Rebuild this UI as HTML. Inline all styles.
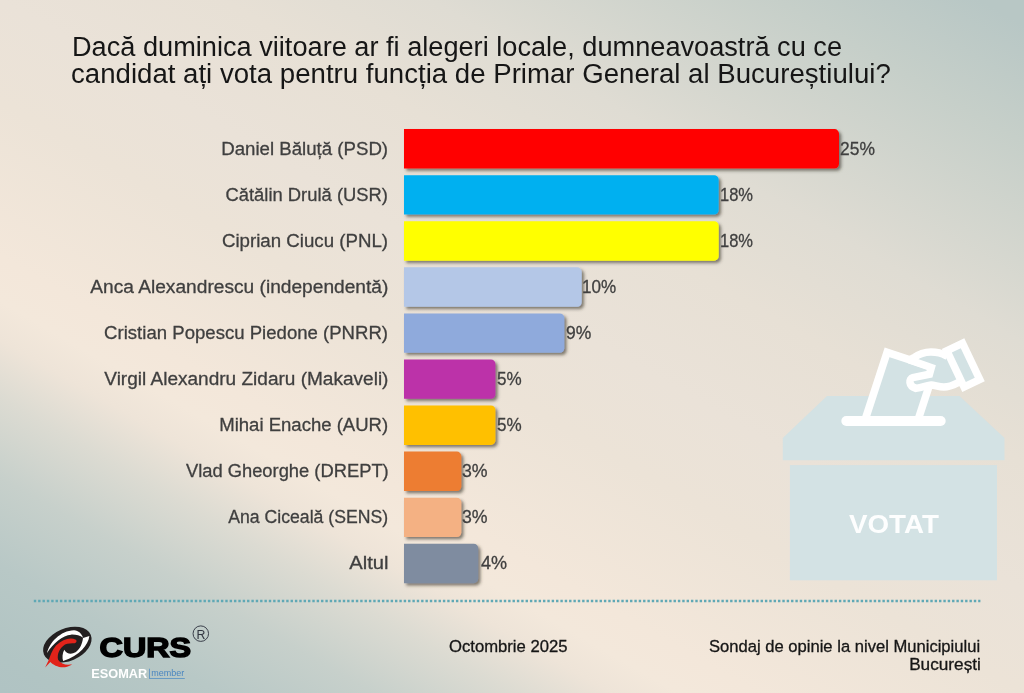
<!DOCTYPE html>
<html lang="ro">
<head>
<meta charset="utf-8">
<title>Sondaj CURS - Primar General al Bucureștiului</title>
<style>
html,body{margin:0;padding:0}
html,body{width:1024px;height:693px}
body{overflow:hidden;position:relative;font-family:"Liberation Sans",sans-serif;background:#e6dfd5}
.bg{position:absolute;left:0;top:0;width:1024px;height:693px;
background:linear-gradient(30deg,#b0c3c3 0%,#b1c4c3 3%,#b8c8c6 9.9%,#c7d0cb 16.8%,#dcdbd2 23%,#eee4d8 27.5%,#f3e8db 30.5%,#f3e7da 34%,#ece3d7 46%,#eae2d8 54%,#e7e0d5 64%,#dfdcd3 73.3%,#c6cfc9 88.9%,#b8c7c5 98%,#b8c7c5 100%);}
.t{position:absolute;white-space:nowrap;margin:0;padding:0;display:block}
svg{position:absolute;left:0;top:0}
</style>
</head>
<body>
<div class="bg"></div>
<h1 style="margin:0;font-weight:400"><span class="t" style="left:71.62px;transform-origin:0 0;top:34.00px;font-size:26.8px;line-height:26.8px;color:#161616;transform:scaleX(1.0137);">Dacă duminica viitoare ar fi alegeri locale, dumneavoastră cu ce</span><span class="t" style="left:70.94px;transform-origin:0 0;top:61.00px;font-size:26.8px;line-height:26.8px;color:#161616;transform:scaleX(1.0306);">candidat ați vota pentru funcția de Primar General al Bucureștiului?</span></h1>
<svg width="1024" height="693" viewBox="0 0 1024 693"><defs><filter id="sh" x="-5%" y="-20%" width="110%" height="150%"><feDropShadow dx="2.3" dy="2.3" stdDeviation="1.4" flood-color="#3c372d" flood-opacity="0.62"/></filter></defs><g filter="url(#sh)"><path fill="#ff0000" d="M404,129.10H834.50a4.5,4.5 0 0 1 4.5,4.5V164.00a4.5,4.5 0 0 1 -4.5,4.5H404Z"/><path fill="#00b0f0" d="M404,175.17H714.20a4.5,4.5 0 0 1 4.5,4.5V210.07a4.5,4.5 0 0 1 -4.5,4.5H404Z"/><path fill="#ffff00" d="M404,221.24H714.20a4.5,4.5 0 0 1 4.5,4.5V256.14a4.5,4.5 0 0 1 -4.5,4.5H404Z"/><path fill="#b4c7e7" d="M404,267.31H577.20a4.5,4.5 0 0 1 4.5,4.5V302.21a4.5,4.5 0 0 1 -4.5,4.5H404Z"/><path fill="#8faadc" d="M404,313.38H559.80a4.5,4.5 0 0 1 4.5,4.5V348.28a4.5,4.5 0 0 1 -4.5,4.5H404Z"/><path fill="#bc30a9" d="M404,359.45H490.90a4.5,4.5 0 0 1 4.5,4.5V394.35a4.5,4.5 0 0 1 -4.5,4.5H404Z"/><path fill="#ffc000" d="M404,405.52H490.90a4.5,4.5 0 0 1 4.5,4.5V440.42a4.5,4.5 0 0 1 -4.5,4.5H404Z"/><path fill="#ed7d31" d="M404,451.59H456.80a4.5,4.5 0 0 1 4.5,4.5V486.49a4.5,4.5 0 0 1 -4.5,4.5H404Z"/><path fill="#f4b183" d="M404,497.66H456.80a4.5,4.5 0 0 1 4.5,4.5V532.56a4.5,4.5 0 0 1 -4.5,4.5H404Z"/><path fill="#7f8ca0" d="M404,543.73H473.70a4.5,4.5 0 0 1 4.5,4.5V578.63a4.5,4.5 0 0 1 -4.5,4.5H404Z"/></g></svg>
<span class="t" style="right:635.62px;transform-origin:100% 0;top:140.00px;font-size:18.8px;line-height:18.8px;color:#3f3f3f;transform:scaleX(0.9929);-webkit-text-stroke:0.3px #3f3f3f;">Daniel Băluță (PSD)</span><span class="t" style="left:840.27px;transform-origin:0 0;top:140.00px;font-size:18.4px;line-height:18.4px;color:#3f3f3f;transform:scaleX(0.9475);-webkit-text-stroke:0.3px #3f3f3f;">25%</span>
<span class="t" style="right:635.62px;transform-origin:100% 0;top:186.00px;font-size:18.8px;line-height:18.8px;color:#3f3f3f;transform:scaleX(0.9789);-webkit-text-stroke:0.3px #3f3f3f;">Cătălin Drulă (USR)</span><span class="t" style="left:719.77px;transform-origin:0 0;top:186.00px;font-size:18.4px;line-height:18.4px;color:#3f3f3f;transform:scaleX(0.8978);-webkit-text-stroke:0.3px #3f3f3f;">18%</span>
<span class="t" style="right:635.68px;transform-origin:100% 0;top:232.00px;font-size:18.8px;line-height:18.8px;color:#3f3f3f;transform:scaleX(0.9947);-webkit-text-stroke:0.3px #3f3f3f;">Ciprian Ciucu (PNL)</span><span class="t" style="left:719.77px;transform-origin:0 0;top:232.00px;font-size:18.4px;line-height:18.4px;color:#3f3f3f;transform:scaleX(0.8978);-webkit-text-stroke:0.3px #3f3f3f;">18%</span>
<span class="t" style="right:635.54px;transform-origin:100% 0;top:278.00px;font-size:18.8px;line-height:18.8px;color:#3f3f3f;transform:scaleX(1.0196);-webkit-text-stroke:0.3px #3f3f3f;">Anca Alexandrescu (independentă)</span><span class="t" style="left:582.03px;transform-origin:0 0;top:278.00px;font-size:18.4px;line-height:18.4px;color:#3f3f3f;transform:scaleX(0.9266);-webkit-text-stroke:0.3px #3f3f3f;">10%</span>
<span class="t" style="right:635.63px;transform-origin:100% 0;top:324.00px;font-size:18.8px;line-height:18.8px;color:#3f3f3f;transform:scaleX(0.9892);-webkit-text-stroke:0.3px #3f3f3f;">Cristian Popescu Piedone (PNRR)</span><span class="t" style="left:565.87px;transform-origin:0 0;top:324.00px;font-size:18.4px;line-height:18.4px;color:#3f3f3f;transform:scaleX(0.9520);-webkit-text-stroke:0.3px #3f3f3f;">9%</span>
<span class="t" style="right:635.58px;transform-origin:100% 0;top:370.00px;font-size:18.8px;line-height:18.8px;color:#3f3f3f;transform:scaleX(1.0132);-webkit-text-stroke:0.3px #3f3f3f;">Virgil Alexandru Zidaru (Makaveli)</span><span class="t" style="left:497.40px;transform-origin:0 0;top:370.00px;font-size:18.4px;line-height:18.4px;color:#3f3f3f;transform:scaleX(0.9274);-webkit-text-stroke:0.3px #3f3f3f;">5%</span>
<span class="t" style="right:635.63px;transform-origin:100% 0;top:416.00px;font-size:18.8px;line-height:18.8px;color:#3f3f3f;transform:scaleX(0.9869);-webkit-text-stroke:0.3px #3f3f3f;">Mihai Enache (AUR)</span><span class="t" style="left:497.40px;transform-origin:0 0;top:416.00px;font-size:18.4px;line-height:18.4px;color:#3f3f3f;transform:scaleX(0.9274);-webkit-text-stroke:0.3px #3f3f3f;">5%</span>
<span class="t" style="right:635.59px;transform-origin:100% 0;top:462.00px;font-size:18.8px;line-height:18.8px;color:#3f3f3f;transform:scaleX(0.9764);-webkit-text-stroke:0.3px #3f3f3f;">Vlad Gheorghe (DREPT)</span><span class="t" style="left:462.28px;transform-origin:0 0;top:462.00px;font-size:18.4px;line-height:18.4px;color:#3f3f3f;transform:scaleX(0.9632);-webkit-text-stroke:0.3px #3f3f3f;">3%</span>
<span class="t" style="right:635.71px;transform-origin:100% 0;top:508.00px;font-size:18.8px;line-height:18.8px;color:#3f3f3f;transform:scaleX(0.9397);-webkit-text-stroke:0.3px #3f3f3f;">Ana Ciceală (SENS)</span><span class="t" style="left:462.28px;transform-origin:0 0;top:508.00px;font-size:18.4px;line-height:18.4px;color:#3f3f3f;transform:scaleX(0.9632);-webkit-text-stroke:0.3px #3f3f3f;">3%</span>
<span class="t" style="right:635.40px;transform-origin:100% 0;top:554.00px;font-size:18.8px;line-height:18.8px;color:#3f3f3f;transform:scaleX(1.0762);-webkit-text-stroke:0.3px #3f3f3f;">Altul</span><span class="t" style="left:480.63px;transform-origin:0 0;top:554.00px;font-size:18.4px;line-height:18.4px;color:#3f3f3f;transform:scaleX(0.9804);-webkit-text-stroke:0.3px #3f3f3f;">4%</span>
<svg width="1024" height="693" viewBox="0 0 1024 693">
<g fill="#d3e2e4">
<rect x="789.9" y="465.1" width="207.1" height="115.2"/>
<polygon points="827,396 959.5,396 1004.5,438 1004.5,460.2 782.8,460.2 782.8,438"/>
</g>
<!-- ballot paper -->
<polygon points="864.7,421 887.1,352.4 934.95,368.2 917.7,421" fill="#d3e2e4" stroke="#fff" stroke-width="7.6" stroke-linejoin="miter"/>
<!-- hand -->
<g transform="translate(895,335) scale(0.09378)">
<path d="M250,301 L209,238 C245,210 320,180 385,181 C440,182 500,195 545,220 L690,520 L665,512 C618,535 560,555 520,555 C480,553 455,543 432,545 C400,537 300,555 222,569 C170,560 150,530 160,505 C165,480 175,460 190,455 L367,418 L387,347 Z" fill="#d3e2e4"/>
<path d="M150,268 L209,238 C245,210 320,180 385,181 C440,182 500,195 545,220 L560,230" fill="none" stroke="#fff" stroke-width="80" stroke-linecap="butt" stroke-linejoin="round"/>
<path d="M150,264 L387,347 L367,418 L190,455 C148,466 140,545 222,569 C300,555 345,538 388,533 C415,531 470,555 520,555 C560,555 618,537 665,512 L700,500" fill="none" stroke="#fff" stroke-width="80" stroke-linecap="butt" stroke-linejoin="miter"/>
</g>
<!-- cuff -->
<rect x="-8.7" y="-20" width="17.4" height="40" transform="translate(963.3,365.1) rotate(-25.5)" fill="#d3e2e4" stroke="#fff" stroke-width="7.5"/>
<!-- slot -->
<line x1="846.3" y1="421" x2="940.7" y2="421" stroke="#fff" stroke-width="10" stroke-linecap="round"/>
<text x="848.9" y="532.7" font-family="Liberation Sans, sans-serif" font-weight="700" font-size="26.3" fill="#fdfefe" textLength="90" lengthAdjust="spacingAndGlyphs">VOTAT</text>
</svg>
<svg width="1024" height="693" viewBox="0 0 1024 693"><line x1="33.8" y1="600.95" x2="980.4" y2="600.95" stroke="#5fa8b5" stroke-width="2.5" stroke-dasharray="2.4 1.952"/></svg>
<svg width="1024" height="693" viewBox="0 0 1024 693">
<g transform="translate(38,620) scale(0.075)">
<ellipse cx="0" cy="0" rx="339" ry="217" transform="translate(391,329) rotate(-23)" fill="#231f20"/>
<path d="M120,440 C150,300 300,140 480,135 C540,140 585,180 600,235 C560,205 500,192 440,195 C330,205 200,310 120,440 Z" fill="#fff"/>
<path d="M600,240 L685,212 C670,330 560,470 335,548 C320,500 325,440 350,395 C380,450 440,465 500,430 C560,390 590,320 600,240 Z" fill="#fff"/>
<path d="M505,262 C430,225 330,255 240,340 C190,400 160,480 140,540 L95,632 L165,560 C200,600 280,640 360,630 C400,622 430,608 455,590 C380,608 310,590 268,530 C250,450 290,370 360,325 C400,308 450,312 490,310 C515,300 520,275 505,262 Z" fill="#e2231a"/>
</g>
<text x="99.55" y="657.1" font-family="Liberation Sans, sans-serif" font-weight="700" font-size="27.9" fill="#000" stroke="#000" stroke-width="1.5" stroke-linejoin="miter" textLength="91.6" lengthAdjust="spacingAndGlyphs">CURS</text>
<circle cx="200.8" cy="633.65" r="7.75" fill="none" stroke="#3a3f4a" stroke-width="1"/>
<text x="196.5" y="638.8" font-family="Liberation Sans, sans-serif" font-size="13.6" fill="#30353f" textLength="8.9" lengthAdjust="spacingAndGlyphs">R</text>
<text x="91.3" y="677.9" font-family="Liberation Sans, sans-serif" font-weight="700" font-size="13.4" fill="#fff" textLength="55.9" lengthAdjust="spacingAndGlyphs">ESOMAR</text>
<rect x="149" y="668.7" width="0.8" height="10" fill="#5590c5"/>
<text x="151.2" y="676.1" font-family="Liberation Sans, sans-serif" font-size="9.6" fill="#4a86c0" textLength="33" lengthAdjust="spacingAndGlyphs">member</text>
<rect x="149.4" y="678.1" width="35.4" height="0.8" fill="#5590c5"/>
</svg>
<span class="t" style="left:448.63px;transform-origin:0 0;top:638.00px;font-size:16.3px;line-height:16.3px;color:#161616;transform:scaleX(1.0230);-webkit-text-stroke:0.3px #161616;">Octombrie 2025</span><span class="t" style="right:43.67px;transform-origin:100% 0;top:638.00px;font-size:16.3px;line-height:16.3px;color:#161616;transform:scaleX(1.0187);-webkit-text-stroke:0.3px #161616;">Sondaj de opinie la nivel Municipiului</span><span class="t" style="right:43.61px;transform-origin:100% 0;top:656.00px;font-size:16.3px;line-height:16.3px;color:#161616;transform:scaleX(1.0570);-webkit-text-stroke:0.3px #161616;">București</span>
</body>
</html>
